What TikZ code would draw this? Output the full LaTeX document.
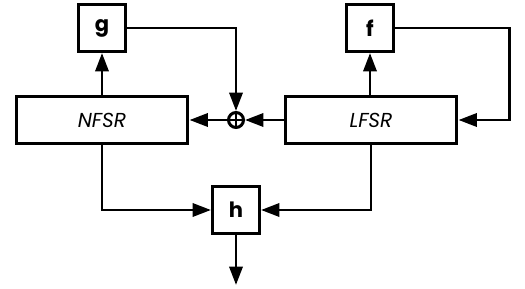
\documentclass[tikz,border=0pt]{standalone}
\usepackage{fontspec}
\setmainfont{Poppins}
\usetikzlibrary{arrows.meta}
\begin{document}
\begin{tikzpicture}[x=0.02cm,y=0.02cm,line width=1.7pt,
    >={Triangle[length=10.5pt,width=7.5pt]},
    fbox/.style={draw,minimum width=0.94cm,minimum height=0.94cm,
        inner sep=0pt,font=\fontsize{12}{14}\selectfont\bfseries},
    reg/.style={draw,minimum width=3.44cm,minimum height=0.94cm,
        inner sep=0pt,font=\fontsize{11.5}{14}\selectfont\itshape},
    xor/.style={draw,circle,minimum size=0.3cm,inner sep=0pt}]
    \useasboundingbox (0,0) rectangle (525,288);

    % registers and functions
    \node[reg] (nfsr) at (102,168) {NFSR};
    \node[reg] (lfsr) at (371,168) {LFSR};
    \node[fbox] (g) at (102,260) {g};
    \node[fbox] (f) at (370,260) {f};
    \node[fbox] (h) at (236,78) {h};
    \node[xor] (x) at (236,168) {};
    \draw[line width=1.3pt] (x.north) -- (x.south) (x.west) -- (x.east);
    \coordinate (out) at (236,3);

    \draw[->] (nfsr.north) -- (g.south);
    \draw[->] (lfsr.north -| f) -- (f.south);
    \draw[->] (g.east) -| (x.north);
    \draw[->] (f.east) -- ++(115,0) |- (lfsr.east);
    \draw[->] (lfsr.west) -- (x.east);
    \draw[->] (x.west) -- (nfsr.east);
    \draw[->] (nfsr.south) |- (h.west);
    \draw[->] (lfsr.south) |- (h.east);
    \draw[->] (h.south) -- (out);
\end{tikzpicture}
\end{document}
